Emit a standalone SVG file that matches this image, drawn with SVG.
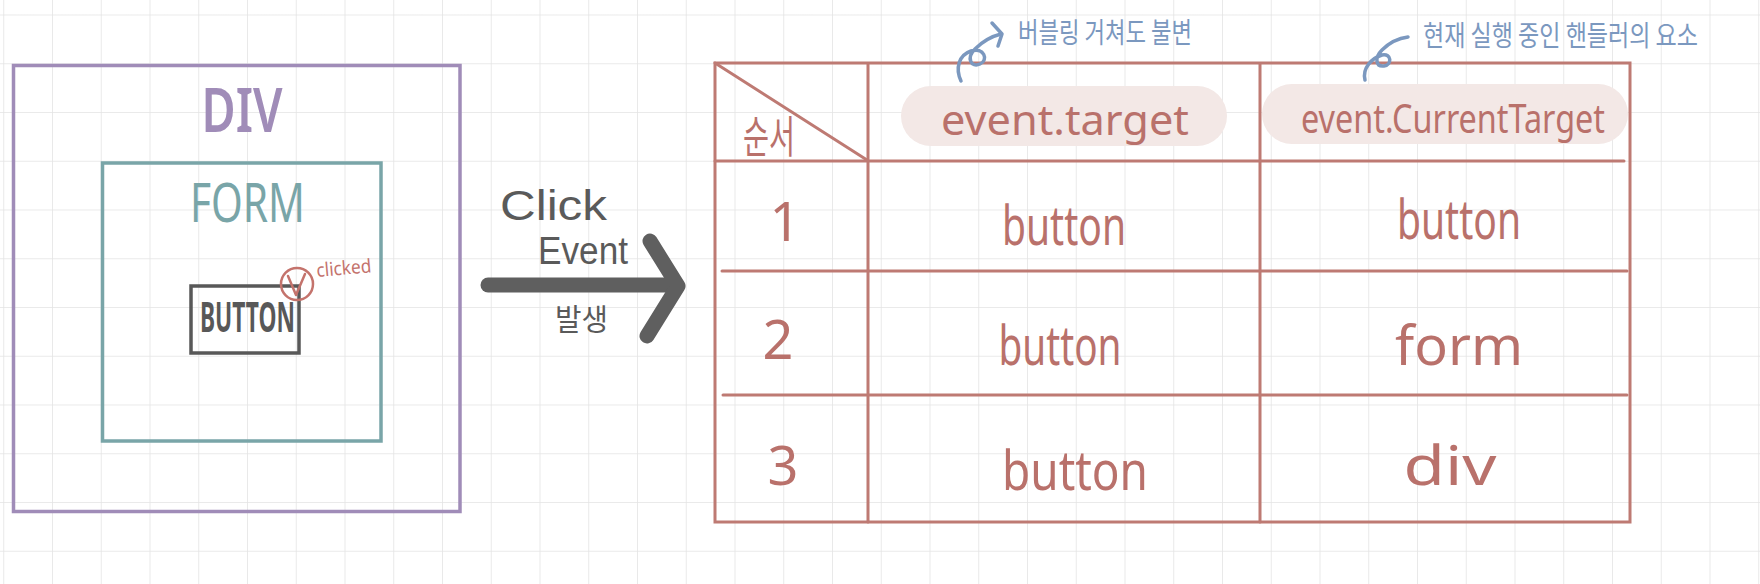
<svg xmlns="http://www.w3.org/2000/svg" width="1760" height="584" viewBox="0 0 1760 584">
<defs>
<pattern id="grid" x="3.25" y="14.5" width="48.75" height="48.75" patternUnits="userSpaceOnUse">
<path d="M0 0 H48.75 M0 0 V48.75" fill="none" stroke="#e4e4e4" stroke-width="1.6"/>
</pattern>
<style>
.hand{font-family:"Noto Sans","Noto Sans CJK KR",sans-serif;}
.lib{font-family:"Liberation Sans",Arial,sans-serif;}
.kr{font-family:"Noto Sans CJK KR","Noto Sans",sans-serif;}
.tbl{fill:none;stroke:#be7a73;stroke-width:3;stroke-linecap:round;}
.cell{fill:#b9716b;font-size:54px;text-anchor:middle;}
.note{fill:#7b98bf;font-size:28px;}
.curl{fill:none;stroke:#7b98bf;stroke-width:3.5;stroke-linecap:round;stroke-linejoin:round;}
.pill{fill:#f3e8e6;}
</style>
</defs>
<rect width="1760" height="584" fill="#ffffff"/>
<rect width="1760" height="584" fill="url(#grid)"/>

<g id="div-node">
<rect x="13.5" y="65.5" width="446.5" height="446" fill="none" stroke="#a08cb8" stroke-width="3.5"/>
<text class="hand" x="242" y="132" font-size="62" font-weight="600" fill="#a08cb8" text-anchor="middle" textLength="81" lengthAdjust="spacingAndGlyphs">DIV</text>
</g>

<g id="form-node">
<rect x="102.5" y="163" width="278.5" height="278" fill="none" stroke="#79a5a8" stroke-width="3.5"/>
<text class="hand" x="247.5" y="222" font-size="55" fill="#79a5a8" text-anchor="middle" textLength="115" lengthAdjust="spacingAndGlyphs">FORM</text>
</g>

<g id="button-node">
<rect x="191" y="286" width="108" height="67" fill="none" stroke="#585858" stroke-width="3.5"/>
<text class="hand" x="247.5" y="332" font-size="41" font-weight="bold" fill="#585858" text-anchor="middle" textLength="95" lengthAdjust="spacingAndGlyphs">BUTTON</text>
<circle cx="297" cy="284" r="16" fill="none" stroke="#c4736c" stroke-width="2.5"/>
<polyline points="288,276 296,295 305,274" fill="none" stroke="#c4736c" stroke-width="2.5" stroke-linecap="round" stroke-linejoin="round"/>
<text class="hand" x="317" y="277" font-size="19" fill="#c4736c" textLength="55" lengthAdjust="spacingAndGlyphs" transform="rotate(-5 317 277)">clicked</text>
</g>

<g id="connectors">
<line x1="488" y1="285" x2="672" y2="285" stroke="#5f5f5f" stroke-width="15" stroke-linecap="round"/>
<polyline points="650,241 678,286 647,336" fill="none" stroke="#5f5f5f" stroke-width="15" stroke-linecap="round" stroke-linejoin="round"/>
<text class="lib" x="500" y="220" font-size="42" fill="#5a5a5a" textLength="107" lengthAdjust="spacingAndGlyphs">Click</text>
<text class="lib" x="538" y="264" font-size="38" fill="#5a5a5a" textLength="90" lengthAdjust="spacingAndGlyphs">Event</text>
<text class="kr" x="555" y="330" font-size="30" fill="#5a5a5a" textLength="53" lengthAdjust="spacingAndGlyphs">발생</text>
</g>

<g id="table">
<rect class="pill" x="901" y="86" width="326" height="60" rx="30"/>
<rect class="pill" x="1262" y="84" width="366" height="60" rx="30"/>
<rect class="tbl" x="715" y="63" width="915" height="459"/>
<line class="tbl" x1="868" y1="64" x2="868" y2="522"/>
<line class="tbl" x1="1260" y1="64" x2="1260" y2="522"/>
<line class="tbl" x1="715" y1="63" x2="867" y2="160"/>
<line class="tbl" x1="715" y1="161" x2="1624" y2="161"/>
<line class="tbl" x1="722" y1="271" x2="1627" y2="271"/>
<line class="tbl" x1="723" y1="395" x2="1627" y2="395"/>
</g>

<g id="header">
<text class="kr" x="743" y="153" font-size="44" fill="#b9716b" textLength="52" lengthAdjust="spacingAndGlyphs">순서</text>
<text class="hand" x="941" y="135" font-size="41" fill="#b9716b" textLength="248" lengthAdjust="spacingAndGlyphs">event.target</text>
<text class="hand" x="1301" y="133" font-size="40" fill="#b9716b" textLength="304" lengthAdjust="spacingAndGlyphs">event.CurrentTarget</text>
</g>

<g id="notes">
<path class="curl" d="M961 81 C955 68 959 55 971 51 C984 47 989 60 980 64 C971 68 966 58 975 49 C983 41 993 36 1001 34"/>
<polyline class="curl" points="992,23 1002,34 998,46"/>
<text class="kr note" x="1018" y="43" textLength="174" lengthAdjust="spacingAndGlyphs">버블링 거쳐도 불변</text>
<path class="curl" d="M1365 80 C1362 68 1372 58 1382 55 C1392 53 1392 65 1384 66 C1376 67 1374 58 1382 50 C1390 42 1400 38 1408 37"/>
<text class="kr note" x="1423" y="46" textLength="275" lengthAdjust="spacingAndGlyphs">현재 실행 중인 핸들러의 요소</text>
</g>

<g id="row-1">
<text class="hand cell" x="785" y="241" font-size="56">1</text>
<text class="hand cell" x="1064" y="245" textLength="124" lengthAdjust="spacingAndGlyphs">button</text>
<text class="hand cell" x="1459" y="239" textLength="124" lengthAdjust="spacingAndGlyphs">button</text>
</g>
<g id="row-2">
<text class="hand cell" x="778" y="359" font-size="52">2</text>
<text class="hand cell" x="1060" y="365" textLength="123" lengthAdjust="spacingAndGlyphs">button</text>
<text class="hand cell" x="1459" y="365" font-size="60" textLength="128" lengthAdjust="spacingAndGlyphs">form</text>
</g>
<g id="row-3">
<text class="hand cell" x="783" y="485" font-size="74">3</text>
<text class="hand cell" x="1075" y="490" font-size="58" textLength="146" lengthAdjust="spacingAndGlyphs">button</text>
<text class="hand cell" x="1450" y="485" font-size="66" textLength="93" lengthAdjust="spacingAndGlyphs">div</text>
</g>
</svg>
